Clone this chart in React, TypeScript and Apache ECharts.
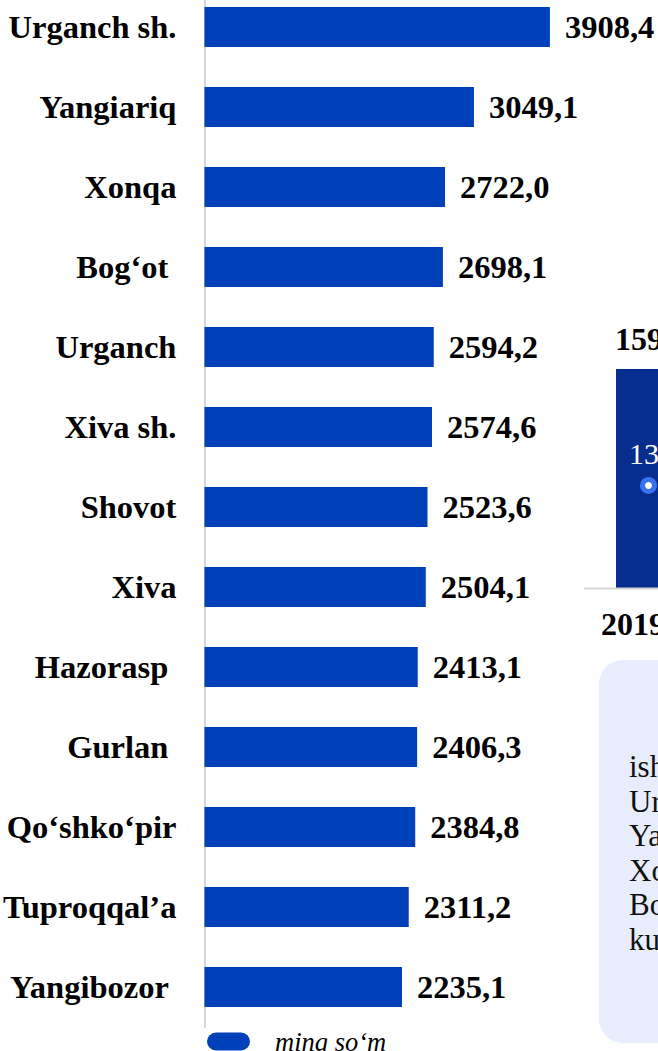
import React, { useEffect, useRef } from "react";
import * as echarts from "echarts";

const categories = [
  "Urganch sh.",
  "Yangiariq",
  "Xonqa",
  "Bog‘ot ",
  "Urganch",
  "Xiva sh.",
  "Shovot",
  "Xiva",
  "Hazorasp ",
  "Gurlan ",
  "Qo‘shko‘pir",
  "Tuproqqal’a",
  "Yangibozor ",
];
const values = [3908.4, 3049.1, 2722.0, 2698.1, 2594.2, 2574.6, 2523.6, 2504.1, 2413.1, 2406.3, 2384.8, 2311.2, 2235.1];
const seriesName = "ming so‘m";

// fragments of the neighbouring chart / note cut by the page edge
const sideValueTop = "159";
const sideValueInner = "13";
const sideYear = "2019";
const noteLines = ["ish", "Ur", "Ya", "Xo", "Bo", "ku"];

const SERIF = "'Liberation Serif', 'Times New Roman', serif";
const OFF = 13; // chart div starts 13px above the page

export default function App() {
  const ref = useRef<HTMLDivElement>(null);
  useEffect(() => {
    if (!ref.current) return;
    const chart = echarts.init(ref.current, undefined, { renderer: "svg" });
    const noteGraphics = noteLines.map((t, i) => ({
      type: "text",
      x: 629,
      y: 782 + OFF + i * 34.5,
      style: { text: t, fontFamily: SERIF, fontSize: 31, fill: "#111", textVerticalAlign: "bottom" },
      z: 10,
    }));
    chart.setOption({
      animation: false,
      backgroundColor: "#fff",
      grid: { left: 203, top: 0, width: 355, height: 1040, containLabel: false },
      xAxis: { type: "value", min: 0, max: 4000, show: false },
      yAxis: {
        type: "category",
        inverse: true,
        data: categories,
        axisLine: { show: true, lineStyle: { color: "#d6d6d6", width: 2 } },
        axisTick: { show: false },
        splitLine: { show: false },
        axisLabel: {
          fontFamily: SERIF,
          fontWeight: "bold",
          fontSize: 32.5,
          color: "#000",
          margin: 28,
        },
      },
      legend: {
        data: [seriesName],
        left: 202,
        top: 1036,
        icon: "path://M9,0 H34 A9,9 0 0 1 34,18 H9 A9,9 0 0 1 9,0 Z",
        itemWidth: 43,
        itemHeight: 18,
        textStyle: {
          fontFamily: SERIF,
          fontStyle: "italic",
          fontSize: 26.5,
          color: "#000",
          padding: [0, 0, 10, 20],
        },
      },
      series: [
        {
          name: seriesName,
          type: "bar",
          data: values,
          barWidth: 40,
          itemStyle: { color: "#0040B9" },
          label: {
            show: true,
            position: "right",
            distance: 15,
            fontFamily: SERIF,
            fontWeight: "bold",
            fontSize: 32.5,
            color: "#000",
            formatter: (p: any) => Number(p.value).toFixed(1).replace(".", ","),
          },
        },
      ],
      graphic: [
        {
          type: "text",
          x: 615,
          y: 339 + OFF,
          style: { text: sideValueTop, fontFamily: SERIF, fontWeight: "bold", fontSize: 32, fill: "#000", textVerticalAlign: "middle" },
        },
        { type: "rect", shape: { x: 616, y: 369 + OFF, width: 60, height: 219 }, style: { fill: "#072D8E" } },
        { type: "line", shape: { x1: 584, y1: 588.5 + OFF, x2: 660, y2: 588.5 + OFF }, style: { stroke: "#d6d6d6", lineWidth: 2 } },
        {
          type: "text",
          x: 629,
          y: 453 + OFF,
          style: { text: sideValueInner, fontFamily: SERIF, fontSize: 30, fill: "#fff", textVerticalAlign: "middle" },
        },
        { type: "circle", shape: { cx: 648.5, cy: 485.5 + OFF, r: 8.5 }, style: { fill: "#3A70F2" } },
        { type: "circle", shape: { cx: 648.5, cy: 485.5 + OFF, r: 3.5 }, style: { fill: "#fff" } },
        {
          type: "text",
          x: 601,
          y: 624 + OFF,
          style: { text: sideYear, fontFamily: SERIF, fontWeight: "bold", fontSize: 32, fill: "#000", textVerticalAlign: "middle" },
        },
        { type: "rect", shape: { x: 599, y: 660 + OFF, width: 120, height: 383, r: 24 }, style: { fill: "#E7EDFC" } },
        ...noteGraphics,
      ],
    });
    return () => chart.dispose();
  }, []);
  return <div ref={ref} style={{ position: "absolute", left: 0, top: -OFF, width: 658, height: 1051 + OFF }} />;
}
